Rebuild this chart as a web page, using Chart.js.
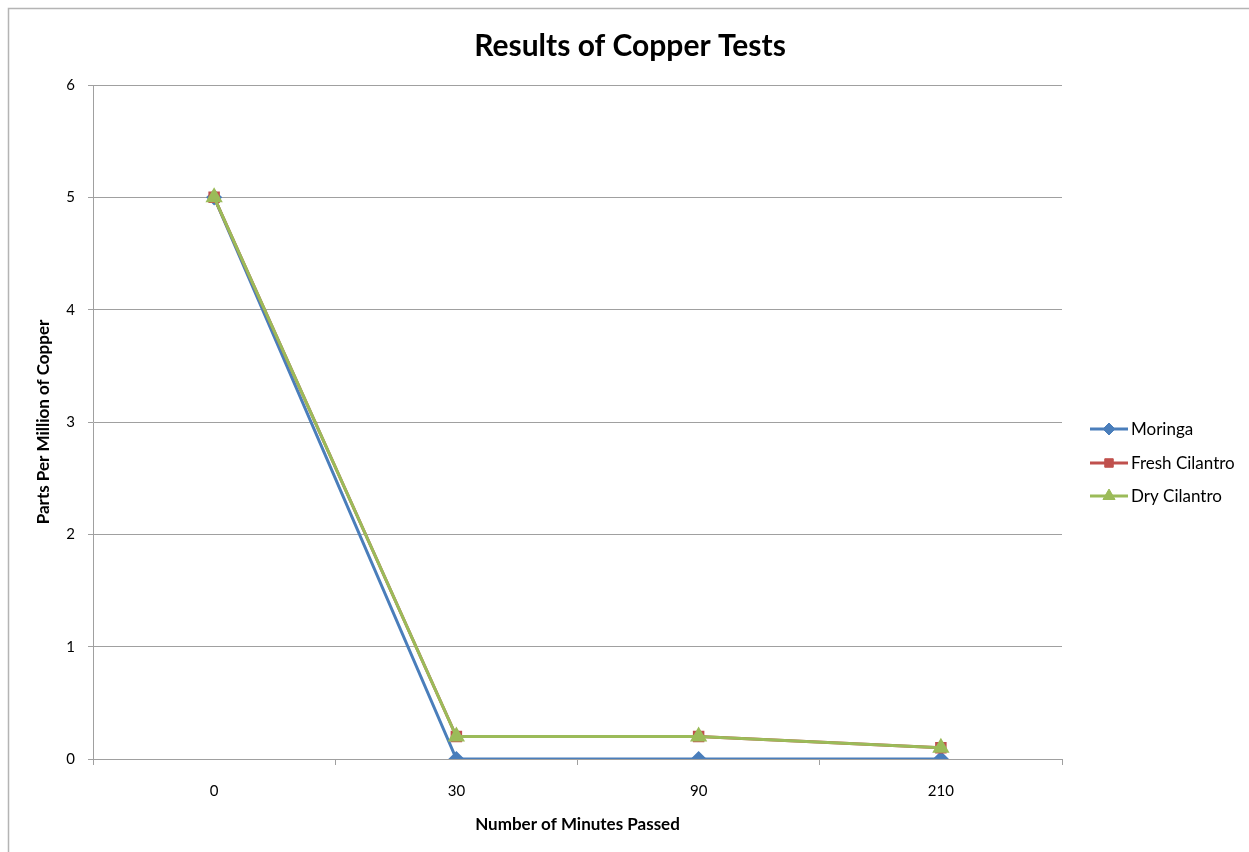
<!DOCTYPE html>
<html><head><meta charset="utf-8">
<script src="https://cdn.jsdelivr.net/npm/chart.js@4/dist/chart.umd.min.js"></script>
<style>html,body{margin:0;padding:0;background:#fff}#wrap{width:1249px;height:852px}</style>
</head><body><div id="wrap"><canvas id="c" width="1249" height="852"></canvas></div>
<script>
const categories = ['0', '30', '90', '210'];
const moringa = [5, 0, 0, 0];
const freshCilantro = [5, 0.2, 0.2, 0.1];
const dryCilantro = [5, 0.2, 0.2, 0.1];
const seriesNames = ['Moringa', 'Fresh Cilantro', 'Dry Cilantro'];
const chartTitle = 'Results of Copper Tests';
const xTitle = 'Number of Minutes Passed';
const yTitle = 'Parts Per Million of Copper';

const FONT = 'Lato, "Open Sans", sans-serif';
const GRID = '#a0a0a0';

const decor = {
  id: 'decor',
  afterDraw(chart) {
    const ctx = chart.ctx, a = chart.chartArea;
    ctx.save();
    ctx.strokeStyle = '#b4b4b4'; ctx.lineWidth = 1.5;
    ctx.strokeRect(8.5, 8.5, 1300, 900);
    ctx.fillStyle = '#000';
    ctx.textAlign = 'center'; ctx.textBaseline = 'middle';
    ctx.font = 'bold 30px ' + FONT;
    ctx.fillText(chartTitle, 630, 46);
    ctx.font = 'bold 17px ' + FONT;
    ctx.fillText(xTitle, (a.left + a.right) / 2, 825);
    ctx.translate(44, (a.top + a.bottom) / 2);
    ctx.rotate(-Math.PI / 2);
    ctx.fillText(yTitle, 0, 0);
    ctx.restore();
    // legend
    const ys = [429, 463, 496];
    chart.data.datasets.forEach((ds, i) => {
      const y = ys[i];
      ctx.save();
      ctx.strokeStyle = ds.borderColor; ctx.lineWidth = 3;
      ctx.beginPath(); ctx.moveTo(1090, y); ctx.lineTo(1128, y); ctx.stroke();
      ctx.fillStyle = ds.pointBackgroundColor; ctx.strokeStyle = ds.pointBorderColor; ctx.lineWidth = 1;
      Chart.helpers.drawPoint(ctx, {pointStyle: ds.pointStyle, radius: ds.pointRadius, rotation: 0, borderWidth: 1}, 1109, y);
      ctx.fillStyle = '#000';
      ctx.font = '17px ' + FONT; ctx.textAlign = 'left'; ctx.textBaseline = 'middle';
      ctx.fillText(ds.label, 1131, y + 1);
      ctx.restore();
    });
  }
};

const mk = (label, data, color, style, r, order) => ({
  label, data, borderColor: color, backgroundColor: color,
  pointBackgroundColor: color, pointBorderColor: color,
  pointStyle: style, pointRadius: r, pointHoverRadius: r, borderWidth: 3,
  tension: 0, order
});

new Chart(document.getElementById('c'), {
  type: 'line',
  data: {
    labels: categories,
    datasets: [
      mk(seriesNames[0], moringa, '#4a7ebb', 'rectRot', 6, 2),
      mk(seriesNames[1], freshCilantro, '#c0504d', 'rect', 6, 1),
      mk(seriesNames[2], dryCilantro, '#9bbb59', 'triangle', 7, 0)
    ]
  },
  options: {
    responsive: false, animation: false,
    layout: {padding: {top: 85, right: 187, bottom: 0, left: 0}},
    plugins: {legend: {display: false}, title: {display: false}, tooltip: {enabled: false}},
    scales: {
      x: {
        offset: true,
        afterFit(s) { s.height = 93; },
        grid: {display: true, drawOnChartArea: false, drawTicks: true, tickLength: 6, offset: true, color: GRID, lineWidth: 1},
        border: {display: true, color: GRID, width: 1},
        ticks: {color: '#000', font: {family: FONT, size: 15}, padding: 17, maxRotation: 0}
      },
      y: {
        min: 0, max: 6,
        afterFit(s) { s.width = 93; },
        grid: {color: GRID, lineWidth: 1, tickLength: 5, drawTicks: true},
        border: {display: true, color: GRID, width: 1},
        ticks: {stepSize: 1, color: '#000', font: {family: FONT, size: 15}, padding: 13}
      }
    }
  },
  plugins: [decor]
});
</script></body></html>
